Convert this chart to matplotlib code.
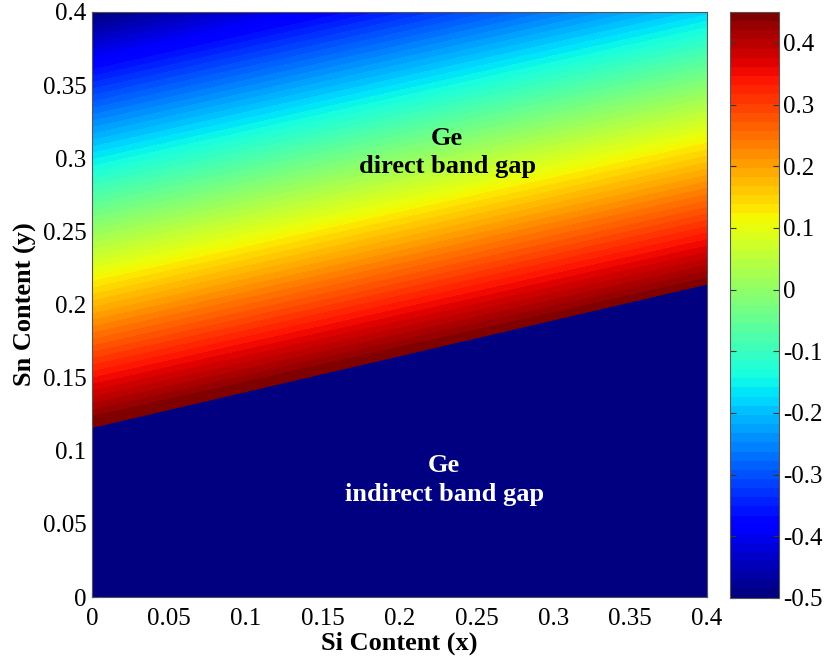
import numpy as np
import matplotlib
matplotlib.use("Agg")
import matplotlib.pyplot as plt
from matplotlib.colors import BoundaryNorm
from matplotlib.cm import ScalarMappable

plt.rcParams["font.family"] = ["Liberation Serif", "DejaVu Serif"]
plt.rcParams["axes.unicode_minus"] = False

# Composition grid (Si fraction x, Sn fraction y)
si_content = [0.0, 0.1, 0.2, 0.3, 0.4]
sn_content = [0.10, 0.15, 0.20, 0.25, 0.30, 0.35, 0.40]

# Energy difference (eV) on the composition grid, rows follow sn_content
energy_diff = [
    [0.514, 0.594, 0.674, 0.754, 0.834],
    [0.345, 0.425, 0.505, 0.585, 0.665],
    [0.176, 0.256, 0.336, 0.416, 0.496],
    [0.007, 0.087, 0.167, 0.247, 0.327],
    [-0.162, -0.082, -0.002, 0.078, 0.158],
    [-0.331, -0.251, -0.171, -0.091, -0.011],
    [-0.500, -0.420, -0.340, -0.260, -0.180],
]

# Direct / indirect crossover line
crossover_x = [0.0, 0.4]
crossover_y = [0.116, 0.214]

vmin, vmax = -0.5, 0.45
n_colors = 64
levels = np.linspace(vmin, vmax, n_colors + 1)
cmap = plt.get_cmap("jet").copy()
cmap.set_under(cmap(0.0))
cmap.set_over(cmap(1.0))
norm = BoundaryNorm(levels, cmap.N)

fig = plt.figure(figsize=(8.27, 6.61), dpi=100)
ax = fig.add_axes([92 / 827, 64 / 661, 615 / 827, 585 / 661])
cax = fig.add_axes([730 / 827, 63 / 661, 49 / 827, 586 / 661])

X, Y = np.meshgrid(si_content, sn_content)
cs = ax.contourf(X, Y, np.array(energy_diff), levels=levels, cmap=cmap,
                 norm=norm, extend="both", antialiased=False)

# Indirect-gap region below the crossover line
ax.fill_between(crossover_x, 0, crossover_y, color=cmap(norm(vmin + 1e-6)),
                linewidth=0, zorder=2)

ax.set_xlim(0, 0.4)
ax.set_ylim(0, 0.4)
ticks = [0, 0.05, 0.1, 0.15, 0.2, 0.25, 0.3, 0.35, 0.4]
tick_labels = ["0", "0.05", "0.1", "0.15", "0.2", "0.25", "0.3", "0.35", "0.4"]
ax.set_xticks(ticks)
ax.set_xticklabels(tick_labels)
ax.set_yticks(ticks)
ax.set_yticklabels(tick_labels)
ax.set_axisbelow(True)
ax.tick_params(direction="in", labelsize=18)
ax.tick_params(axis="x", pad=8)
ax.tick_params(axis="y", pad=4)
for sp in ax.spines.values():
    sp.set_color("#555555")
    sp.set_linewidth(0.8)
    sp.set_zorder(5)

ax.set_xlabel("Si Content (x)", fontsize=19, fontweight="bold", labelpad=1)
ax.set_ylabel("Sn Content (y)", fontsize=19, fontweight="bold", labelpad=4)

ax.text(0.231, 0.304, "Ge\ndirect band gap", ha="center", va="center",
        fontsize=19, fontweight="bold", color="black", linespacing=1.3, zorder=6)
ax.text(0.229, 0.080, "Ge\nindirect band gap", ha="center", va="center",
        fontsize=19, fontweight="bold", color="white", linespacing=1.3, zorder=6)

sm = ScalarMappable(norm=norm, cmap=cmap)
cb = fig.colorbar(sm, cax=cax, extend="neither")
cb_ticks = [-0.5, -0.4, -0.3, -0.2, -0.1, 0, 0.1, 0.2, 0.3, 0.4]
cb.set_ticks(cb_ticks)
cb.set_ticklabels(["-0.5", "-0.4", "-0.3", "-0.2", "-0.1", "0", "0.1", "0.2", "0.3", "0.4"])
cb.ax.minorticks_off()
cb.ax.tick_params(direction="in", labelsize=18, length=4, right=True, left=True,
                  color="#333333", pad=3)
cb.outline.set_edgecolor("#555555")
cb.outline.set_linewidth(0.8)

fig.savefig("out.png", dpi=100)
